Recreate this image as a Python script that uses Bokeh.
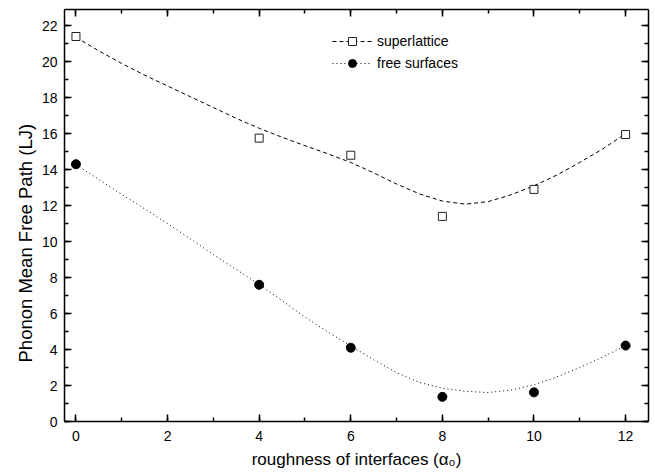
from bokeh.plotting import figure
from bokeh.models import (LinearAxis, SingleIntervalTicker, Range1d, Legend,
                          LegendItem, Title, CustomLabelingPolicy)
from bokeh.embed import file_html
from bokeh.resources import INLINE

FONT = "Liberation Sans"

# measured data points
roughness = [0, 4, 6, 8, 10, 12]
superlattice = [21.4, 15.75, 14.8, 11.4, 12.9, 15.95]
free_surfaces = [14.3, 7.6, 4.1, 1.37, 1.62, 4.22]

# fitted curves
fit_x = [0, 0.5, 1, 1.5, 2, 2.5, 3, 3.5, 4, 4.5, 5, 5.5, 6, 6.5, 7, 7.5,
         8, 8.5, 9, 9.5, 10, 10.5, 11, 11.5, 12]
superlattice_fit = [21.35, 20.6, 19.9, 19.25, 18.65, 18.05, 17.45, 16.85,
                    16.3, 15.8, 15.33, 14.88, 14.4, 13.82, 13.2, 12.65,
                    12.25, 12.08, 12.22, 12.6, 13.1, 13.7, 14.4, 15.15, 16.0]
free_fit = [14.28, 13.45, 12.62, 11.82, 11.0, 10.15, 9.28, 8.45, 7.62, 6.72,
            5.8, 4.98, 4.2, 3.43, 2.72, 2.17, 1.85, 1.68, 1.61, 1.75, 2.04,
            2.48, 3.0, 3.58, 4.22]

x_label = "roughness of interfaces (\u03b1\u2080)"
y_label = "Phonon Mean Free Path (LJ)"

p = figure(width=655, height=474, output_backend="svg", toolbar_location=None,
           x_range=Range1d(-0.25, 12.5), y_range=Range1d(0, 22.9),
           min_border_left=64, min_border_right=7, min_border_top=9,
           min_border_bottom=53, background_fill_color="white",
           border_fill_color="white")
p.grid.visible = False
p.outline_line_color = None

xt = SingleIntervalTicker(interval=2, num_minor_ticks=2)
yt = SingleIntervalTicker(interval=2, num_minor_ticks=2)


def style(ax, labels=True):
    ax.axis_line_color = "black"
    ax.axis_line_width = 1.5
    ax.major_tick_line_color = "black"
    ax.major_tick_line_width = 1.5
    ax.minor_tick_line_color = "black"
    ax.minor_tick_line_width = 1.5
    ax.major_tick_in = 7
    ax.major_tick_out = 0
    ax.minor_tick_in = 4
    ax.minor_tick_out = 0
    ax.major_label_text_font = FONT
    ax.major_label_text_color = "black"
    if labels:
        ax.major_label_text_font_size = "14px"
    else:
        ax.major_label_text_font_size = "0px"
        ax.major_label_standoff = 0
        ax.major_label_policy = CustomLabelingPolicy(code="return []")


p.xaxis.ticker = xt
p.yaxis.ticker = yt
style(p.xaxis[0])
style(p.yaxis[0])
p.xaxis.major_label_standoff = 9
p.yaxis.major_label_standoff = 7
p.xaxis.axis_label = x_label
p.xaxis.axis_label_text_font = FONT
p.xaxis.axis_label_text_font_size = "17px"
p.xaxis.axis_label_text_font_style = "normal"
p.xaxis.axis_label_text_color = "black"
p.xaxis.axis_label_standoff = 6

top = LinearAxis(ticker=xt)
style(top, labels=False)
p.add_layout(top, "above")
right = LinearAxis(ticker=yt)
style(right, labels=False)
p.add_layout(right, "right")

l1 = p.line(fit_x, superlattice_fit, line_color="black", line_width=1,
            line_dash="4 3")
l2 = p.line(fit_x, free_fit, line_color="black", line_width=1,
            line_dash="1 3")
s1 = p.scatter(roughness, superlattice, marker="square", size=8,
               fill_color="white", line_color="#222222", line_width=1)
s2 = p.scatter(roughness, free_surfaces, marker="circle", size=9,
               fill_color="black", line_color="black")

legend = Legend(items=[LegendItem(label="superlattice", renderers=[l1, s1]),
                       LegendItem(label="free surfaces", renderers=[l2, s2])],
                location=(268, 348), padding=0, margin=0, spacing=2,
                glyph_width=40, glyph_height=20, label_standoff=5,
                label_text_font=FONT, label_text_font_size="14px",
                label_text_color="black", border_line_color=None,
                background_fill_alpha=0)
p.add_layout(legend)

ylab = Title(text=y_label, align="left", offset=59, standoff=6,
             text_font=FONT, text_font_size="18.5px", text_font_style="normal",
             text_color="black")
p.add_layout(ylab, "left")

open("out.html", "w").write(file_html(p, INLINE))
